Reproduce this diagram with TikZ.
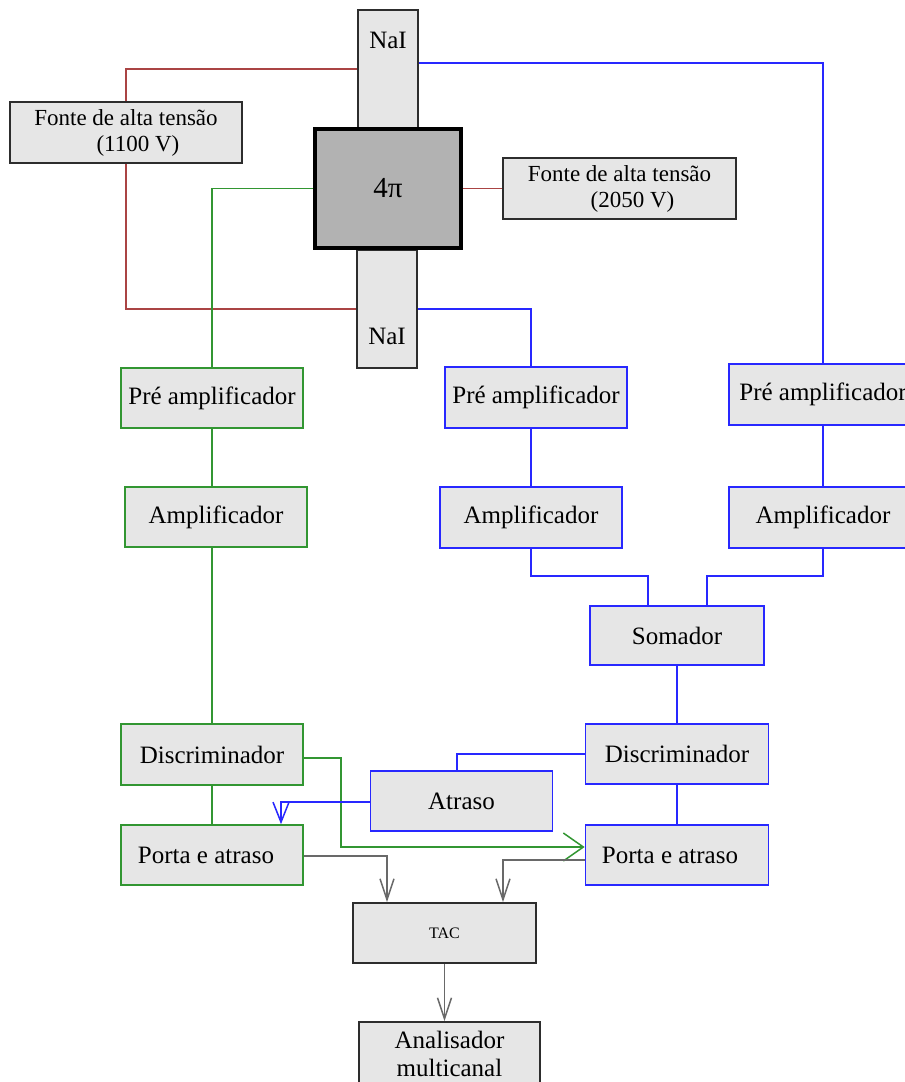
\documentclass[tikz,border=0pt]{standalone}
\usepackage{fontspec}
\setmainfont{Liberation Serif}
\usetikzlibrary{arrows.meta,calc}
\definecolor{redl}{RGB}{170,68,68}
\definecolor{greenl}{RGB}{50,150,50}
\definecolor{bluel}{RGB}{40,40,255}
\definecolor{grayl}{RGB}{105,105,105}
\definecolor{boxfill}{RGB}{230,230,230}
\definecolor{pifill}{RGB}{178,178,178}
\definecolor{boxline}{RGB}{45,45,45}
\tikzset{
  basebox/.style={fill=boxfill, inner sep=0pt, line width=1.7pt, font=\fontsize{25}{28}\selectfont},
  kbox/.style={basebox, draw=boxline},
  gbox/.style={basebox, draw=greenl},
  bbox/.style={basebox, draw=bluel},
  txt/.style={inner sep=0pt, font=\fontsize{25}{28}\selectfont},
  rline/.style={draw=redl, line width=1.5pt},
  gline/.style={draw=greenl, line width=1.5pt},
  bline/.style={draw=bluel, line width=1.5pt},
  kline/.style={draw=grayl, line width=1.5pt},
  kbarb/.style={-{Straight Barb[length=21pt,width=14pt]}},
}
\begin{document}
\begin{tikzpicture}[x=1pt,y=-1pt]
\useasboundingbox (0,0) rectangle (905,1082);
\fill[white] (0,0) rectangle (905,1082);

% detector
\node[kbox, minimum width=60, minimum height=118] (naiT) at (388,69) {};
\node[txt] (naiTt) at (388,40) {NaI};
\node[kbox, minimum width=60, minimum height=118] (naiB) at (387,309) {};
\node[txt] (naiBt) at (387,336) {NaI};
\node[draw=black, fill=pifill, line width=4.5pt, inner sep=0pt, minimum width=146, minimum height=119, font=\fontsize{29}{30}\selectfont] (pi) at (388,188.5) {4π};

% high voltage
\node[kbox, minimum width=232, minimum height=61, align=center, font=\fontsize{23}{26}\selectfont] (fonte1) at (126,132.5) {Fonte de alta tensão\\\hspace*{24pt}(1100 V)};
\node[kbox, minimum width=233, minimum height=61, align=center, font=\fontsize{23}{26}\selectfont] (fonte2) at (619.5,188.5) {Fonte de alta tensão\\\hspace*{26pt}(2050 V)};

% pre amplifiers
\node[gbox, minimum width=182, minimum height=60] (preL) at (212,398) {Pré amplificador};
\node[bbox, minimum width=182, minimum height=61] (preM) at (536,397.5) {Pré amplificador};
\node[bbox, minimum width=188, minimum height=61] (preR) at (823,394.5) {Pré amplificador};

% amplifiers
\node[gbox, minimum width=182, minimum height=60] (ampL) at (216,517) {Amplificador};
\node[bbox, minimum width=182, minimum height=61] (ampM) at (531,517.5) {Amplificador};
\node[bbox, minimum width=188, minimum height=61] (ampR) at (823,517.5) {Amplificador};

% sum, discriminators, delays
\node[bbox, minimum width=174, minimum height=59] (somador) at (677,635.5) {Somador};
\node[gbox, minimum width=182, minimum height=61] (discL) at (212,754.5) {Discriminador};
\node[bbox, minimum width=183, minimum height=60] (discR) at (677,754) {Discriminador};
\node[bbox, minimum width=182, minimum height=60] (atraso) at (461.5,801) {Atraso};
\node[gbox, minimum width=182, minimum height=60] (portaL) at (212,855) {\hspace*{-12pt}Porta e atraso};
\node[bbox, minimum width=183, minimum height=60] (portaR) at (677,855) {\hspace*{-14pt}Porta e atraso};

% TAC and MCA
\node[kbox, minimum width=183, minimum height=60, font=\fontsize{16}{18}\selectfont] (tac) at (444.5,933) {TAC};
\node[kbox, minimum width=181, minimum height=64, align=center] (anal) at (449.5,1054) {Analisador\\multicanal};

% red HV connections
\draw[rline] (fonte1.north) |- (naiT.west);
\draw[rline] (fonte1.south) |- (naiB.west);
\draw[rline] (pi.east) -- (fonte2.west);

% green branch
\draw[gline] (pi.west) -| (preL.north);
\draw[gline] (preL.south) -- (preL.south |- ampL.north);
\draw[gline] (discL.north |- ampL.south) -- (discL.north);
\draw[gline] (discL.south) -- (portaL.north);
\draw[gline, -{Straight Barb[length=20pt,width=28pt]}] ([yshift=-3.5]discL.east) -- ++(37,0) |- ([yshift=8]portaR.west);

% blue branches
\draw[bline] ([yshift=6]naiT.east) -| (preR.north);
\draw[bline] (naiB.east) -| (ampM.north |- preM.north);
\draw[bline] (ampM.north |- preM.south) -- (ampM.north);
\draw[bline] (preR.south) -- (ampR.north);
\draw[bline] (ampM.south) -- ++(0,27) -| ([xshift=-29]somador.north);
\draw[bline] (ampR.south) -- ++(0,27) -| ([xshift=30]somador.north);
\draw[bline] (somador.south) -- (somador.south |- discR.north);
\draw[bline] (discR.south) -- (discR.south |- portaR.north);
\draw[bline] (discR.west) -| ([xshift=-4.5]atraso.north);
\draw[bline, -{Straight Barb[length=20pt,width=16pt]}] ([yshift=-1]atraso.west) -| ([xshift=69]portaL.north);

% gray to TAC and MCA
\draw[kline, kbarb] ([yshift=-1]portaL.east) -| ([xshift=-57.5]tac.north);
\draw[kline, kbarb] ([yshift=-5]portaR.west) -| ([xshift=58.5]tac.north);
\draw[kline, kbarb] (tac.south) -- (tac.south |- anal.north);
\end{tikzpicture}
\end{document}
